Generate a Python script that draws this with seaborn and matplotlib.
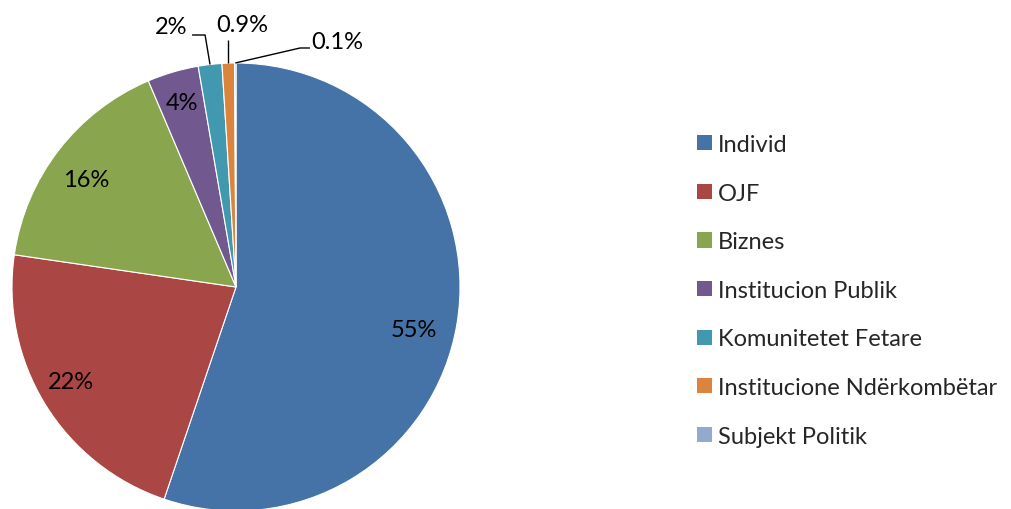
import numpy as np
import matplotlib
matplotlib.use("Agg")
import matplotlib.pyplot as plt
from matplotlib.patches import Patch
import seaborn as sns

categories = ["Individ", "OJF", "Biznes", "Institucion Publik",
              "Komunitetet Fetare", "Institucione Ndërkombëtar", "Subjekt Politik"]
values = [55.2, 22.1, 16.3, 3.7, 1.7, 0.9, 0.1]
value_labels = ["55%", "22%", "16%", "4%", "2%", "0.9%", "0.1%"]
colors = ["#4572A7", "#AA4643", "#89A54E", "#71588F", "#4198AF", "#DB843D", "#93A9CF"]

sns.set_theme(style="white")
plt.rcParams["font.family"] = ["Lato", "DejaVu Sans"]

W, H = 1011, 510
fig = plt.figure(figsize=(W / 100, H / 100), dpi=100)
fig.patch.set_facecolor("white")

# pie geometry in pixels
cx, cy, R = 236, 288, 224
xr, yr = 1.2, 1.3
ax = fig.add_axes([(cx - xr * R) / W, ((H - cy) - yr * R) / H, 2 * xr * R / W, 2 * yr * R / H])

wedges, _ = ax.pie(values, colors=colors, startangle=90, counterclock=False,
                   wedgeprops=dict(edgecolor="white", linewidth=0.8))
ax.set_xlim(-xr, xr)
ax.set_ylim(-yr, yr)
ax.set_aspect("auto")
ax.axis("off")

fs = 17
inner_r = [0.818, 0.848, 0.825, 0.86]
inner_da = [-4.2, -1.8, 1.9, 0.0]
for w, lab, r, da in zip(wedges[:4], value_labels[:4], inner_r, inner_da):
    a = np.deg2rad((w.theta1 + w.theta2) / 2 + da)
    ax.text(r * np.cos(a), r * np.sin(a), lab, ha="center", va="center",
            fontsize=fs, color="#000000")

def mid(w):
    a = np.deg2rad((w.theta1 + w.theta2) / 2)
    return np.cos(a), np.sin(a)

lc = dict(color="#000000", lw=1.0, solid_capstyle="butt")
# 2%
x0, y0 = mid(wedges[4])
ax.plot([x0, -0.138, -0.196], [y0, 1.125, 1.125], **lc)
ax.text(-0.215, 1.165, value_labels[4], ha="right", va="center", fontsize=fs, color="#000000")
# 0.9%
x0, y0 = mid(wedges[5])
ax.plot([x0, x0], [y0, 1.103], **lc)
ax.text(0.027, 1.17, value_labels[5], ha="center", va="center", fontsize=fs, color="#000000")
# 0.1%
x0, y0 = mid(wedges[6])
ax.plot([x0, 0.286, 0.33], [y0, 1.067, 1.067], **lc)
ax.text(0.335, 1.095, value_labels[6], ha="left", va="center", fontsize=fs, color="#000000")

handles = [Patch(facecolor=c, edgecolor="none") for c in colors]
fig.legend(handles, categories, loc="upper left",
           bbox_to_anchor=(697 / W, 1 - 135 / H), frameon=False,
           fontsize=fs, handlelength=0.62, handleheight=0.62, handletextpad=0.25,
           labelspacing=1.17, borderpad=0, borderaxespad=0)

fig.savefig("out.png", dpi=100, facecolor="white")
